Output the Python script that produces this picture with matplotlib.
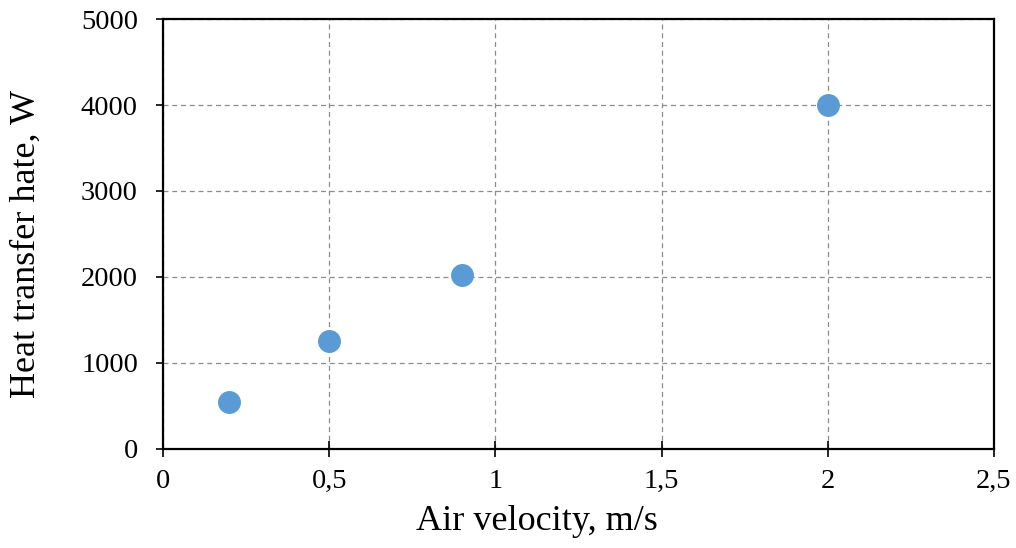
import matplotlib
matplotlib.use("Agg")
import matplotlib.pyplot as plt
from matplotlib.ticker import FuncFormatter

plt.rcParams['font.family'] = ['Liberation Serif', 'DejaVu Serif']

velocity = [0.2, 0.5, 0.9, 2.0]
heat_rate = [550, 1260, 2020, 4000]
x_ticks = [0, 0.5, 1, 1.5, 2, 2.5]
y_ticks = [0, 1000, 2000, 3000, 4000, 5000]

fig = plt.figure(figsize=(10.16, 5.48), dpi=100)
ax = fig.add_axes([0.1604, 0.1807, 0.8179, 0.7846])
ax.plot(velocity, heat_rate, 'o', color='#5B9BD5', markersize=15.5, zorder=3)
ax.set_xlim(0, 2.5)
ax.set_ylim(0, 5000)
ax.set_xticks(x_ticks)
ax.set_yticks(y_ticks)
ax.xaxis.set_major_formatter(FuncFormatter(lambda v, p: ('%g' % v).replace('.', ',')))
ax.grid(True, color='#8c8c8c', linestyle=(0, (4, 3)), linewidth=0.9)
for s in ax.spines.values():
    s.set_linewidth(1.6)
    s.set_color('black')
ax.tick_params(axis='x', direction='inout', length=11.5, width=1.2, labelsize=20.5, pad=8.5)
ax.tick_params(axis='y', direction='out', length=5, width=1.2, labelsize=20.5, pad=13)
ax.set_xlabel('Air velocity, m/s', fontsize=26)
ax.set_ylabel('Heat transfer hate, W', fontsize=26)
ax.xaxis.set_label_coords(0.450, -0.130)
ax.yaxis.set_label_coords(-0.145, 0.477)
fig.savefig('out.png', dpi=100)
